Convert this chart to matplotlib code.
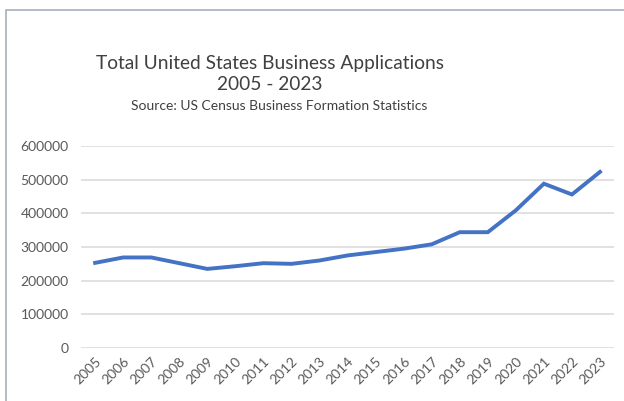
import matplotlib.pyplot as plt
from matplotlib.patches import Rectangle

# Data
years = [str(y) for y in range(2005, 2024)]
applications = [253000, 269000, 269000, 252000, 235000, 243000, 252000, 250000,
                260000, 275000, 285000, 295000, 308000, 344000, 344000, 409000,
                488000, 456000, 523000]
y_ticks = [0, 100000, 200000, 300000, 400000, 500000, 600000]

plt.rcParams['font.family'] = ['Lato', 'DejaVu Sans']

fig = plt.figure(figsize=(6.24, 4.01), dpi=100)
ax = fig.add_axes([0.13, 0.132, 0.854, 0.504])

# Chart frame (partly cropped like the screenshot)
fig.patches.append(Rectangle((6 / 624, -0.1), 1.2, 1.1 - 10 / 401,
                             transform=fig.transFigure, fill=False,
                             edgecolor='#a6afbf', linewidth=1.2))

x = range(len(years))
ax.plot(x, applications, color='#4472C4', linewidth=2.8, solid_joinstyle='miter')

ax.set_xlim(-0.5, len(years) - 0.5)
ax.set_ylim(0, 600000)
ax.set_yticks(y_ticks)
ax.set_yticklabels([str(v) for v in y_ticks])
ax.set_xticks(list(x))
ax.set_xticklabels(years, rotation=45, ha='right', rotation_mode='anchor')

ax.grid(axis='y', color='#d9d9d9', linewidth=1.1)
ax.set_axisbelow(True)
for s in ax.spines.values():
    s.set_visible(False)
ax.tick_params(length=0, labelsize=10, colors='#595959')
ax.tick_params(axis='y', pad=9)
ax.tick_params(axis='x', pad=5)

# Titles
fig.text(0.433, 1 - 63 / 401, 'Total United States Business Applications',
         ha='center', va='center', fontsize=13.8, color='#404040')
fig.text(0.433, 1 - 84 / 401, '2005 - 2023',
         ha='center', va='center', fontsize=13.8, color='#404040')
fig.text(0.447, 1 - 106 / 401, 'Source: US Census Business Formation Statistics',
         ha='center', va='center', fontsize=10, color='#404040')

fig.savefig('out.png', dpi=100, facecolor='white')
